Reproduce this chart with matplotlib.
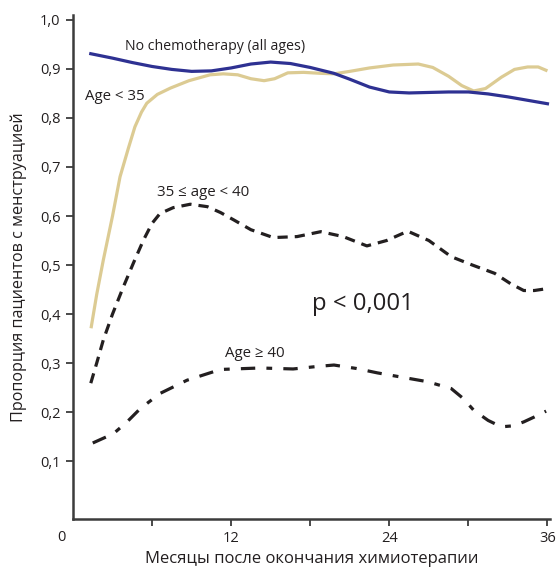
import matplotlib
matplotlib.use("Agg")
import matplotlib.pyplot as plt

plt.rcParams['font.family'] = ['Open Sans', 'DejaVu Sans']

# Data
no_chemo_x = [1.35, 3, 4.5, 6, 7.5, 9, 10.5, 12, 13.5, 15, 16.5, 18, 19.8, 21, 22.5, 24, 25.5, 27, 28.5, 30, 31.5, 33, 34.5, 36]
no_chemo_y = [0.931, 0.922, 0.913, 0.905, 0.899, 0.895, 0.896, 0.902, 0.910, 0.914, 0.911, 0.903, 0.891, 0.879, 0.863, 0.853, 0.851, 0.852, 0.853, 0.853, 0.849, 0.843, 0.836, 0.829]

young_x = [1.37, 1.8, 2.3, 3.0, 3.57, 4.2, 4.7, 5.2, 5.6, 6.4, 7.4, 8.8, 10.4, 11.4, 12.5, 13.5, 14.5, 15.3, 16.3, 17.5, 18.8, 19.8, 21.0, 22.5, 24.3, 26.2, 27.3, 28.5, 29.5, 30.4, 31.3, 32.5, 33.5, 34.5, 35.3, 36.0]
young_y = [0.371, 0.44, 0.51, 0.60, 0.680, 0.738, 0.782, 0.812, 0.830, 0.848, 0.861, 0.876, 0.888, 0.890, 0.888, 0.880, 0.876, 0.880, 0.892, 0.893, 0.891, 0.890, 0.895, 0.902, 0.908, 0.910, 0.903, 0.885, 0.866, 0.855, 0.860, 0.883, 0.899, 0.904, 0.904, 0.896]

mid_x = [1.35, 1.8, 2.3, 3.0, 3.83, 4.6, 5.35, 6.0, 6.6, 7.6, 8.9, 10.2, 11.2, 12.2, 13.5, 15.2, 17.0, 18.8, 20.5, 22.3, 23.8, 25.4, 27.0, 28.7, 30.3, 32.0, 33.2, 34.2, 35.0, 36.0]
mid_y = [0.259, 0.300, 0.347, 0.400, 0.456, 0.505, 0.551, 0.585, 0.605, 0.617, 0.624, 0.619, 0.607, 0.592, 0.572, 0.556, 0.558, 0.568, 0.558, 0.539, 0.550, 0.569, 0.550, 0.517, 0.500, 0.483, 0.462, 0.448, 0.448, 0.452]

old_x = [1.5, 3.07, 4.1, 5.1, 6.6, 8.65, 11.2, 14.2, 16.7, 18.5, 19.8, 21.5, 23.1, 25.0, 26.9, 28.7, 29.6, 30.4, 31.5, 32.5, 33.4, 34.2, 35.0, 35.9]
old_y = [0.137, 0.156, 0.180, 0.207, 0.238, 0.265, 0.287, 0.290, 0.288, 0.293, 0.296, 0.289, 0.280, 0.271, 0.262, 0.248, 0.228, 0.204, 0.183, 0.170, 0.172, 0.180, 0.190, 0.202]

x_ticks_major = [12, 24, 36]
x_ticks_minor = [6, 18, 30]
y_ticks = [0.1, 0.2, 0.3, 0.4, 0.5, 0.6, 0.7, 0.8, 0.9, 1.0]
y_labels = ['0,1', '0,2', '0,3', '0,4', '0,5', '0,6', '0,7', '0,8', '0,9', '1,0']

fig = plt.figure(figsize=(5.58, 5.68), dpi=100)
ax = fig.add_axes([0.1308, 0.0863, 0.855, 0.8873])

ax.plot(young_x, young_y, color='#dccb93', lw=2.3, solid_capstyle='butt')
ax.plot(no_chemo_x, no_chemo_y, color='#2e3192', lw=2.3)
ax.plot(mid_x, mid_y, color='#231f20', lw=2.3, dashes=(3.2, 2.2))
ax.plot(old_x, old_y, color='#231f20', lw=2.3, dashes=(4.5, 3.5, 1.8, 3.5))

ax.set_xlim(0, 36.2)
ax.set_ylim(-0.018, 1.01)

for s in ['top', 'right']:
    ax.spines[s].set_visible(False)
for s in ['left', 'bottom']:
    ax.spines[s].set_color('#3c3c3c')
    ax.spines[s].set_linewidth(1.8)

ax.set_xticks(x_ticks_major)
ax.set_xticklabels([str(v) for v in x_ticks_major])
ax.set_xticks(x_ticks_minor, minor=True)
ax.set_yticks(y_ticks)
ax.set_yticklabels(y_labels)
ax.tick_params(axis='both', which='both', direction='out', length=5, width=1.3,
               color='#3c3c3c', labelsize=10.5, labelcolor='#231f20')
ax.tick_params(axis='x', pad=4)
ax.tick_params(axis='y', pad=4)

ax.text(-0.84, -0.055, '0', ha='center', va='center', fontsize=10.5, color='#231f20')

ax.set_xlabel('Месяцы после окончания химиотерапии', fontsize=12, color='#231f20', labelpad=3)
ax.set_ylabel('Пропорция пациентов с менструацией', fontsize=11.6, color='#231f20', labelpad=9)

ax.text(3.95, 0.945, 'No chemotherapy (all ages)', fontsize=10.2, va='center', ha='left', color='#231f20')
ax.text(0.9, 0.843, 'Age < 35', fontsize=10.8, va='center', ha='left', color='#231f20')
ax.text(6.4, 0.647, '35 ≤ age < 40', fontsize=10.8, va='center', ha='left', color='#231f20')
ax.text(11.5, 0.320, 'Age ≥ 40', fontsize=10.8, va='center', ha='left', color='#231f20')
ax.text(18.1, 0.420, 'p < 0,001', fontsize=17.2, va='center', ha='left', color='#231f20')

fig.savefig('out.png', dpi=100)
